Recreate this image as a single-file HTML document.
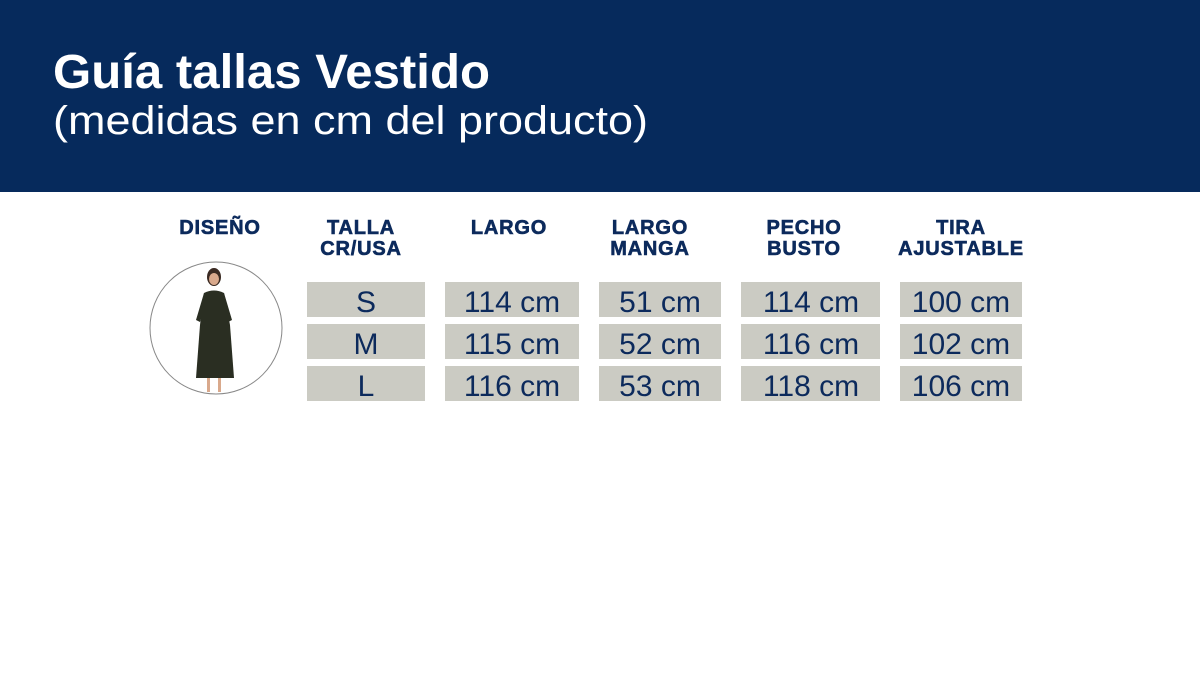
<!DOCTYPE html>
<html><head><meta charset="utf-8"><style>
html,body{margin:0;padding:0;background:#fff;}
svg{display:block;}
.h{font-family:"Liberation Sans",sans-serif;font-weight:bold;font-size:20px;fill:#0c2a5c;stroke:#0c2a5c;stroke-width:0.6;letter-spacing:0.8px;text-anchor:middle;}
.v{font-family:"Liberation Sans",sans-serif;font-size:30px;fill:#0c2a5c;text-anchor:middle;}
</style></head><body>
<svg width="1200" height="697" viewBox="0 0 1200 697" xmlns="http://www.w3.org/2000/svg">
<rect x="0" y="0" width="1200" height="192" fill="#062a5c"/>
<text x="53" y="88" font-family="Liberation Sans, sans-serif" font-weight="bold" font-size="48" fill="#fff" textLength="437" lengthAdjust="spacingAndGlyphs">Guía tallas Vestido</text>
<text x="53" y="134" font-family="Liberation Sans, sans-serif" font-size="40" fill="#fff" textLength="595" lengthAdjust="spacingAndGlyphs">(medidas en cm del producto)</text>

<text class="h" x="220" y="234">DISEÑO</text>
<text class="h" x="361" y="234">TALLA</text><text class="h" x="361" y="255">CR/USA</text>
<text class="h" x="509" y="234">LARGO</text>
<text class="h" x="650" y="234">LARGO</text><text class="h" x="650" y="255">MANGA</text>
<text class="h" x="804" y="234">PECHO</text><text class="h" x="804" y="255">BUSTO</text>
<text class="h" x="961" y="234">TIRA</text><text class="h" x="961" y="255">AJUSTABLE</text>

<g fill="#cbcbc3">
<rect x="307" y="282" width="118" height="35"/><rect x="307" y="324" width="118" height="35"/><rect x="307" y="366" width="118" height="35"/>
<rect x="445" y="282" width="134" height="35"/><rect x="445" y="324" width="134" height="35"/><rect x="445" y="366" width="134" height="35"/>
<rect x="599" y="282" width="122" height="35"/><rect x="599" y="324" width="122" height="35"/><rect x="599" y="366" width="122" height="35"/>
<rect x="741" y="282" width="139" height="35"/><rect x="741" y="324" width="139" height="35"/><rect x="741" y="366" width="139" height="35"/>
<rect x="900" y="282" width="122" height="35"/><rect x="900" y="324" width="122" height="35"/><rect x="900" y="366" width="122" height="35"/>
</g>
<text class="v" x="366" y="312">S</text><text class="v" x="366" y="354">M</text><text class="v" x="366" y="396">L</text>
<text class="v" x="512" y="312">114 cm</text><text class="v" x="512" y="354">115 cm</text><text class="v" x="512" y="396">116 cm</text>
<text class="v" x="660" y="312">51 cm</text><text class="v" x="660" y="354">52 cm</text><text class="v" x="660" y="396">53 cm</text>
<text class="v" x="811" y="312">114 cm</text><text class="v" x="811" y="354">116 cm</text><text class="v" x="811" y="396">118 cm</text>
<text class="v" x="961" y="312">100 cm</text><text class="v" x="961" y="354">102 cm</text><text class="v" x="961" y="396">106 cm</text>

<circle cx="216" cy="328" r="66" fill="#fff" stroke="#888" stroke-width="1"/>
<g>
<ellipse cx="214" cy="277" rx="7" ry="9" fill="#3a2a22"/>
<ellipse cx="214" cy="279" rx="5" ry="6" fill="#d9a98c"/>
<path d="M204 293 Q214 288 224 293 L230 325 L234 378 L196 378 L200 325 Z" fill="#2a2e22"/>
<path d="M204 293 L196 320 L200 322 L207 300 Z" fill="#2a2e22"/>
<path d="M224 293 L232 320 L228 322 L221 300 Z" fill="#2a2e22"/>
<rect x="207" y="378" width="3" height="14" fill="#d9a98c"/>
<rect x="218" y="378" width="3" height="14" fill="#d9a98c"/>
</g>
</svg>
</body></html>
